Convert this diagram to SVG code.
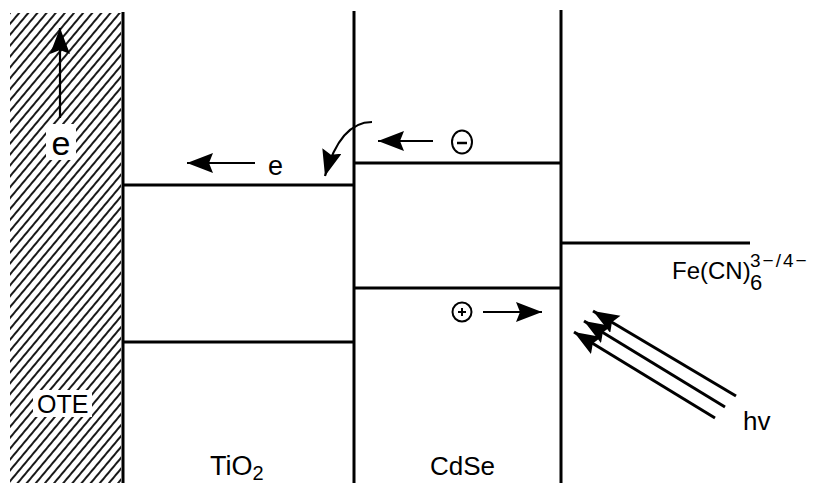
<svg xmlns="http://www.w3.org/2000/svg" width="828" height="483" viewBox="0 0 828 483">
<style>
.t{font-family:"Liberation Sans",Arial,sans-serif;fill:#000}
.lvl{stroke:#000;stroke-width:3;fill:none}
.wall{stroke:#000;stroke-width:3;fill:none}
.arr{stroke:#000;stroke-width:2.2;fill:none;marker-end:url(#ah)}
.ph{stroke:#000;stroke-width:3;fill:none;marker-end:url(#ah)}
</style>
<defs>
<pattern id="hatch" width="7" height="10" patternUnits="userSpaceOnUse" patternTransform="rotate(40)">
<line x1="2" y1="0" x2="2" y2="10" stroke="#000" stroke-width="1.8"/>
</pattern>
<marker id="ah" markerUnits="userSpaceOnUse" markerWidth="30" markerHeight="22" refX="26" refY="10" orient="auto">
<path d="M0,0 L26,10 L0,20 L4,10 z" fill="#000"/>
</marker>
</defs>
<rect width="828" height="483" fill="#fff"/>
<g id="OTE">
<rect x="10" y="13" width="111" height="470" fill="url(#hatch)"/>
<rect x="46" y="124" width="30" height="36" fill="#fff"/>
<rect x="33" y="390" width="59" height="27" fill="#fff"/>
<text class="t" x="37" y="413" font-size="25">OTE</text>
<text class="t" x="61" y="155" font-size="34" text-anchor="middle">e</text>
</g>
<g id="TiO2">
<text class="t" x="210" y="475" font-size="27">TiO<tspan font-size="20" y="480">2</tspan></text>
<text class="t" x="268" y="175" font-size="27">e</text>
</g>
<g id="CdSe">
<text class="t" x="430" y="475" font-size="26">CdSe</text>
</g>
<g id="electrolyte">
<text class="t" x="672" y="279" font-size="24">Fe(CN)</text>
<text class="t" x="750" y="290" font-size="22">6</text>
<text class="t" x="750" y="267" font-size="19" letter-spacing="2">3−/4−</text>
<text class="t" x="743" y="430" font-size="26">hv</text>
</g>
<g id="levels">
<line class="wall" x1="123" y1="12" x2="123" y2="483"/>
<line class="wall" x1="354" y1="11" x2="354" y2="483"/>
<line class="wall" x1="561" y1="10" x2="561" y2="483"/>
<line class="lvl" x1="123" y1="185" x2="354" y2="185"/>
<line class="lvl" x1="123" y1="342" x2="354" y2="342"/>
<line class="lvl" x1="354" y1="163" x2="561" y2="163"/>
<line class="lvl" x1="354" y1="288" x2="561" y2="288"/>
<line class="lvl" x1="561" y1="243" x2="750" y2="243"/>
</g>
<g id="carriers">
<ellipse cx="462" cy="142" rx="10" ry="11.5" fill="none" stroke="#000" stroke-width="2"/>
<line x1="457" y1="143" x2="467" y2="143" stroke="#000" stroke-width="2.5"/>
<circle cx="462" cy="312" r="9.5" fill="none" stroke="#000" stroke-width="2"/>
<line x1="458" y1="312" x2="466" y2="312" stroke="#000" stroke-width="2"/>
<line x1="462" y1="308" x2="462" y2="316" stroke="#000" stroke-width="2"/>
</g>
<g id="connectors">
<line class="arr" x1="60" y1="118" x2="60" y2="28"/>
<line class="arr" x1="255" y1="163" x2="187" y2="163"/>
<path class="arr" d="M372,122 Q340,122 325,176"/>
<line class="arr" x1="433" y1="141" x2="378" y2="141"/>
<line class="arr" x1="483" y1="312" x2="542" y2="312"/>
<line class="ph" x1="736" y1="396" x2="593" y2="311"/>
<line class="ph" x1="725" y1="407" x2="584" y2="321"/>
<line class="ph" x1="715" y1="418" x2="574" y2="332"/>
</g>
</svg>
